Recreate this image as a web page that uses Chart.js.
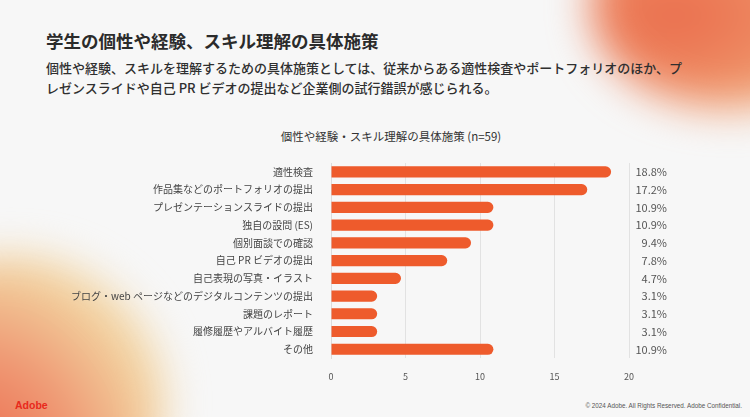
<!DOCTYPE html>
<html lang="ja">
<head>
<meta charset="utf-8">
<script src="https://cdn.jsdelivr.net/npm/chart.js@4"></script>
<style>
  html, body { margin: 0; padding: 0; }
  body {
    width: 750px; height: 417px; overflow: hidden; position: relative;
    background: #f7f7f7;
    font-family: "Noto Sans CJK JP", "Noto Sans", sans-serif;
  }
  .blob { position: absolute; border-radius: 50%; filter: blur(20px); }
  #blobTR {
    left: 590px; top: -100px; width: 280px; height: 210px;
    background: radial-gradient(ellipse at 30% 55%, #ea6c4c 0%, #ee8a62 40%, #f2b888 70%, rgba(242,210,160,0) 100%);
  }
  #blobBL {
    left: -140px; top: 255px; width: 305px; height: 290px;
    background: radial-gradient(ellipse at 35% 75%, #eb6246 0%, #ef9672 38%, #f2d4a0 70%, rgba(244,236,200,0) 100%);
  }
  #title {
    position: absolute; left: 46px; top: 28px; margin: 0;
    font-size: 17.5px; font-weight: 700; color: #2b2b2b; white-space: nowrap;
  }
  #subtitle {
    position: absolute; left: 46px; top: 58px; margin: 0;
    font-size: 13px; font-weight: 500; line-height: 20px; color: #2f2f2f; white-space: nowrap;
  }
  #chartTitle {
    position: absolute; left: 191px; width: 400px; top: 128px; text-align: center;
    font-size: 11.5px; color: #333;
  }
  #chartBox { position: absolute; left: 0; top: 147px; width: 710px; height: 248px; }
  #logo {
    position: absolute; left: 15px; top: 399px; font-family: "Liberation Sans", sans-serif;
    font-size: 10.5px; font-weight: 700; color: #e8291c;
  }
  #footer {
    position: absolute; right: 8px; top: 402px; font-family: "Liberation Sans", sans-serif;
    font-size: 6.3px; color: #555;
  }
</style>
</head>
<body>
<div class="blob" id="blobTR"></div>
<div class="blob" id="blobBL"></div>
<h1 id="title">学生の個性や経験、スキル理解の具体施策</h1>
<p id="subtitle">個性や経験、スキルを理解するための具体施策としては、従来からある適性検査やポートフォリオのほか、プ<br>レゼンスライドや自己 PR ビデオの提出など企業側の試行錯誤が感じられる。</p>
<div id="chartTitle">個性や経験・スキル理解の具体施策 (n=59)</div>
<div id="chartBox"><canvas id="barChart"></canvas></div>
<div id="logo">Adobe</div>
<div id="footer">© 2024 Adobe. All Rights Reserved. Adobe Confidential.</div>

<script>
const categories = [
    "適性検査",
    "作品集などのポートフォリオの提出",
    "プレゼンテーションスライドの提出",
    "独自の設問 (ES)",
    "個別面談での確認",
    "自己 PR ビデオの提出",
    "自己表現の写真・イラスト",
    "ブログ・web ページなどのデジタルコンテンツの提出",
    "課題のレポート",
    "履修履歴やアルバイト履歴",
    "その他",
];
const percentValues = [18.8, 17.2, 10.9, 10.9, 9.4, 7.8, 4.7, 3.1, 3.1, 3.1, 10.9];
const axisMax = 20;
const axisStep = 5;

/* Draws the percentage text at the right side of each bar row. */
const valueLabels = {
    id: "valueLabels",
    afterDatasetsDraw(chart) {
        const ctx = chart.ctx;
        const meta = chart.getDatasetMeta(0);
        ctx.save();
        ctx.font = "11px 'Noto Sans CJK JP', sans-serif";
        ctx.fillStyle = "#555";
        ctx.textAlign = "right";
        ctx.textBaseline = "middle";
        meta.data.forEach((bar, i) => {
            ctx.fillText(percentValues[i].toFixed(1) + "%", chart.chartArea.right + 38, bar.y);
        });
        ctx.restore();
    },
};

function initializeChart() {
    const ctx = document.getElementById("barChart");

    new Chart(ctx, {
        type: "bar",
        data: {
            labels: categories,
            datasets: [
                {
                    data: percentValues,
                    backgroundColor: "#ee5b2c",
                    borderRadius: 6,
                    borderSkipped: "start",
                    barPercentage: 0.8,
                    categoryPercentage: 0.78,
                },
            ],
        },
        options: {
            indexAxis: "y",
            responsive: true,
            maintainAspectRatio: false,
            animation: false,
            layout: { padding: { top: 5, right: 81, bottom: 0, left: 0 } },
            plugins: {
                legend: { display: false },
                tooltip: { enabled: false },
            },
            scales: {
                x: {
                    min: 0,
                    max: axisMax,
                    ticks: {
                        stepSize: axisStep,
                        padding: 13,
                        color: "#555",
                        font: { size: 9, family: "'Noto Sans CJK JP', sans-serif" },
                    },
                    grid: { color: "#e2e2e2", drawTicks: false },
                    border: { display: false },
                },
                y: {
                    afterFit: (axis) => { axis.width = 331; },
                    ticks: {
                        padding: 10,
                        color: "#444",
                        font: { size: 10, family: "'Noto Sans CJK JP', sans-serif" },
                    },
                    grid: { display: false },
                    border: { display: true, color: "#dcdcdc" },
                },
            },
        },
        plugins: [valueLabels],
    });
}

document.addEventListener("DOMContentLoaded", initializeChart);
</script>
</body>
</html>
